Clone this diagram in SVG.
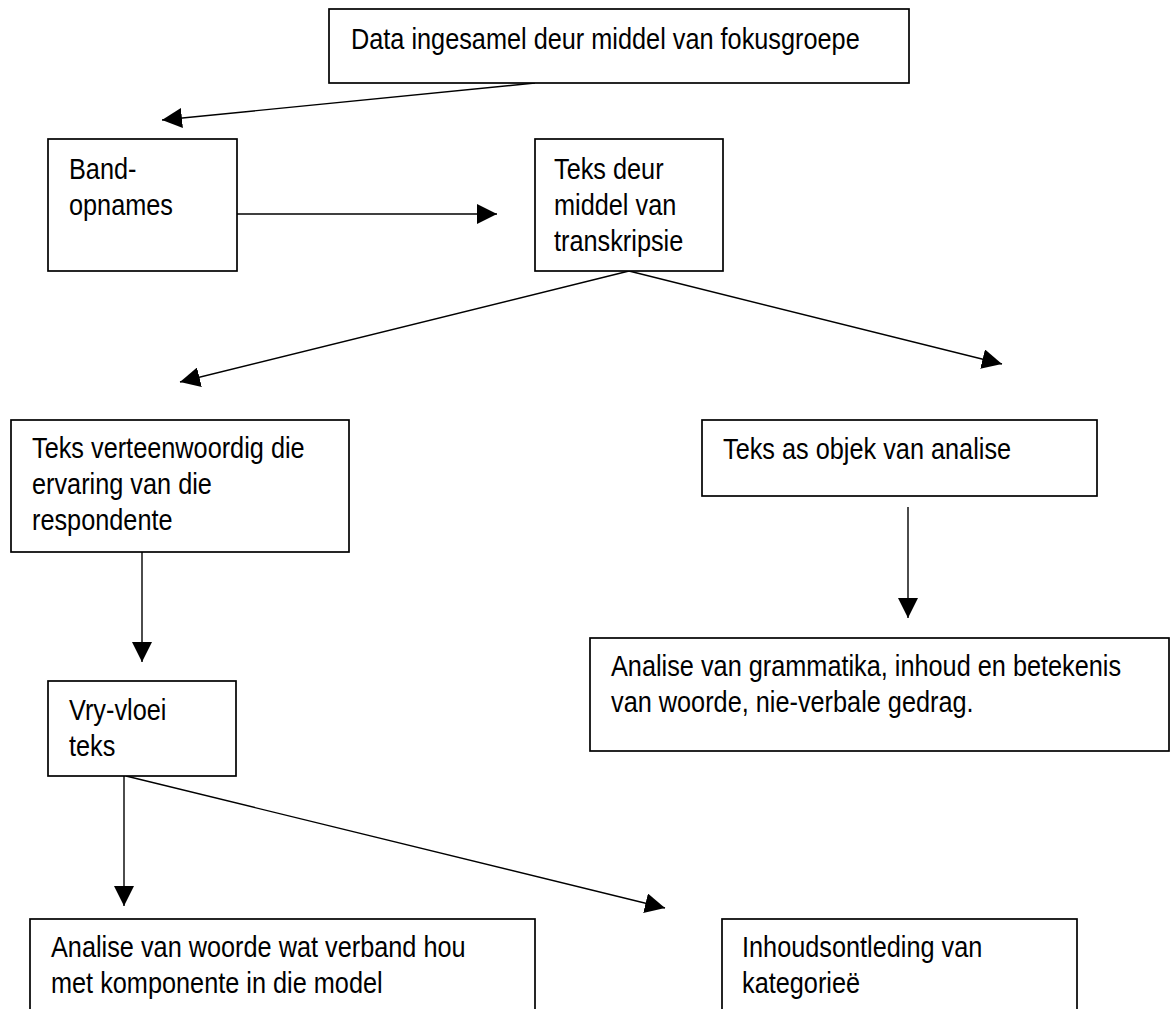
<svg xmlns="http://www.w3.org/2000/svg" width="1172" height="1009" viewBox="0 0 1172 1009">
<style>
.box{fill:#fff;stroke:#000;stroke-width:1.7}
.lbl{font-family:"Liberation Sans",Arial,Helvetica,sans-serif;font-size:30px;fill:#000}
.conn{fill:none;stroke:#000;stroke-width:1.4}
</style>
<defs>
<marker id="ah" markerUnits="userSpaceOnUse" markerWidth="20" markerHeight="20" refX="20" refY="10" orient="auto" viewBox="0 0 20 20">
<path d="M0,0 L20,10 L0,20 z" fill="#000"/>
</marker>
</defs>
<rect width="1172" height="1009" fill="#fff"/>
<g id="connectors">
<line class="conn" x1="535" y1="83" x2="162" y2="120" marker-end="url(#ah)"/>
<line class="conn" x1="237" y1="214" x2="497" y2="214" marker-end="url(#ah)"/>
<line class="conn" x1="629" y1="271" x2="180" y2="382" marker-end="url(#ah)"/>
<line class="conn" x1="629" y1="271" x2="1002" y2="364" marker-end="url(#ah)"/>
<line class="conn" x1="142" y1="552" x2="142" y2="662" marker-end="url(#ah)"/>
<line class="conn" x1="908" y1="507" x2="908" y2="618" marker-end="url(#ah)"/>
<line class="conn" x1="124" y1="776" x2="124" y2="906" marker-end="url(#ah)"/>
<line class="conn" x1="126" y1="776" x2="665" y2="908" marker-end="url(#ah)"/>
</g>
<g id="n-data">
<rect class="box" x="329" y="9" width="580" height="74"/>
<text class="lbl" transform="translate(351,49) scale(0.843,1)"><tspan x="0" y="0">Data ingesamel deur middel van fokusgroepe</tspan></text>
</g>
<g id="n-band">
<rect class="box" x="48" y="139" width="189" height="132"/>
<text class="lbl" transform="translate(69,179) scale(0.843,1)"><tspan x="0" y="0">Band-</tspan><tspan x="0" y="36">opnames</tspan></text>
</g>
<g id="n-teksdeur">
<rect class="box" x="535" y="139" width="188" height="132"/>
<text class="lbl" transform="translate(554,179) scale(0.843,1)"><tspan x="0" y="0">Teks deur</tspan><tspan x="0" y="36">middel van</tspan><tspan x="0" y="72">transkripsie</tspan></text>
</g>
<g id="n-verteenwoordig">
<rect class="box" x="11" y="420" width="338" height="132"/>
<text class="lbl" transform="translate(32,458) scale(0.843,1)"><tspan x="0" y="0">Teks verteenwoordig die</tspan><tspan x="0" y="36">ervaring van die</tspan><tspan x="0" y="72">respondente</tspan></text>
</g>
<g id="n-objek">
<rect class="box" x="702" y="420" width="395" height="76"/>
<text class="lbl" transform="translate(723,459) scale(0.843,1)"><tspan x="0" y="0">Teks as objek van analise</tspan></text>
</g>
<g id="n-vryvloei">
<rect class="box" x="48" y="681" width="188" height="95"/>
<text class="lbl" transform="translate(69,720) scale(0.843,1)"><tspan x="0" y="0">Vry-vloei</tspan><tspan x="0" y="36">teks</tspan></text>
</g>
<g id="n-grammatika">
<rect class="box" x="590" y="638" width="579" height="113"/>
<text class="lbl" transform="translate(611,676) scale(0.843,1)"><tspan x="0" y="0">Analise van grammatika, inhoud en betekenis</tspan><tspan x="0" y="36">van woorde, nie-verbale gedrag.</tspan></text>
</g>
<g id="n-woorde">
<rect class="box" x="30" y="919" width="505" height="110"/>
<text class="lbl" transform="translate(51,957) scale(0.843,1)"><tspan x="0" y="0">Analise van woorde wat verband hou</tspan><tspan x="0" y="36">met komponente in die model</tspan></text>
</g>
<g id="n-inhoud">
<rect class="box" x="722" y="919" width="355" height="110"/>
<text class="lbl" transform="translate(742,957) scale(0.843,1)"><tspan x="0" y="0">Inhoudsontleding van</tspan><tspan x="0" y="36">kategorieë</tspan></text>
</g>
</svg>
